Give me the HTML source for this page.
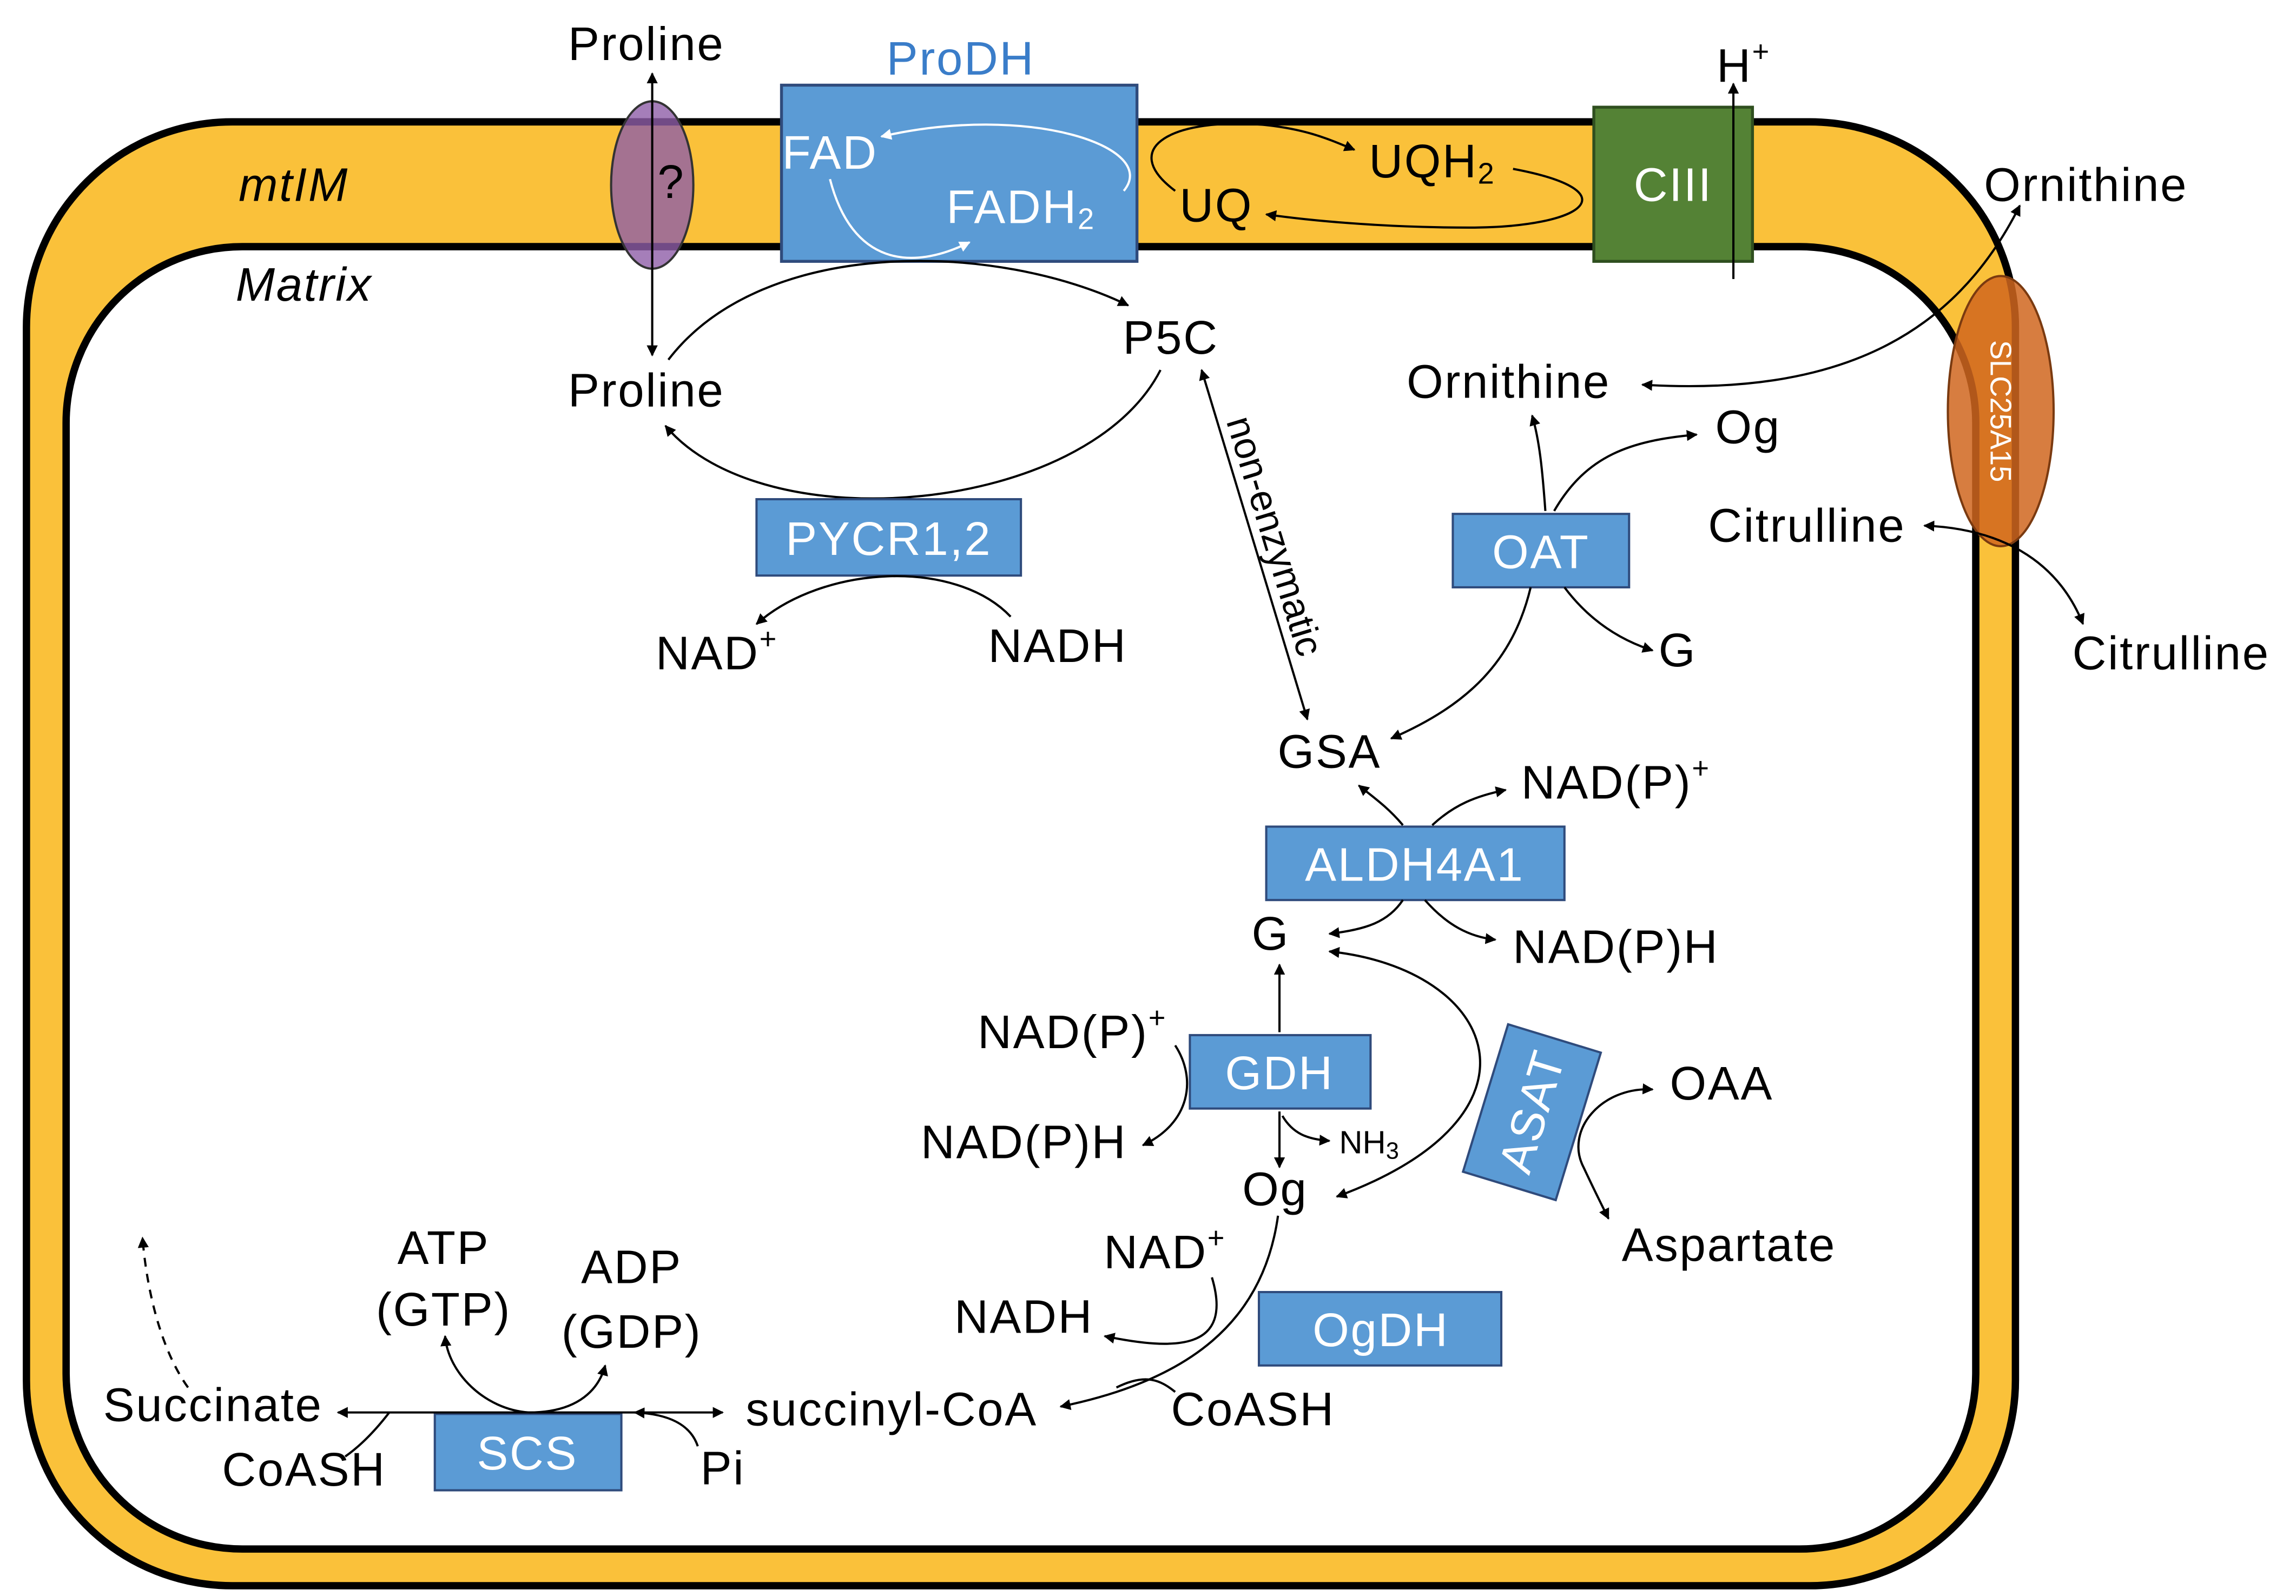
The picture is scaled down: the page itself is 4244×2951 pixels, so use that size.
<!DOCTYPE html>
<html><head><meta charset="utf-8"><style>
html,body{margin:0;padding:0;background:#fff;}
svg{display:block;}
text{font-family:"Liberation Sans",sans-serif;font-size:32px;letter-spacing:1px;fill:#000;}
.w{fill:#fff;}
.c{text-anchor:middle;dominant-baseline:central;}
</style></head><body>
<svg width="4244" height="2951" viewBox="0 0 1563 1087" preserveAspectRatio="none" xmlns="http://www.w3.org/2000/svg">
<defs>
<marker id="a" viewBox="0 0 10 10" refX="9" refY="5" markerWidth="5" markerHeight="5" orient="auto-start-reverse"><path d="M0,0 L10,5 L0,10 z" fill="#000"/></marker>
<marker id="aw" viewBox="0 0 10 10" refX="9" refY="5" markerWidth="5" markerHeight="5" orient="auto-start-reverse"><path d="M0,0 L10,5 L0,10 z" fill="#fff"/></marker>
</defs>
<path fill-rule="evenodd" fill="#FAC13A" stroke="#000" stroke-width="5"
 d="M158,83 H1232 A140,140 0 0 1 1372,223 V940 A140,140 0 0 1 1232,1080 H158 A140,140 0 0 1 18,940 V223 A140,140 0 0 1 158,83 Z
    M165,168 H1225 A120,120 0 0 1 1345,288 V935 A120,120 0 0 1 1225,1055 H165 A120,120 0 0 1 45,935 V288 A120,120 0 0 1 165,168 Z"/>
<text x="200" y="126" class="c" font-style="italic">mtIM</text>
<text x="207" y="194" class="c" font-style="italic">Matrix</text>

<ellipse cx="444" cy="126" rx="28" ry="57" fill="#8E5EA8" fill-opacity="0.8" stroke="#333" stroke-width="1.5"/>
<text x="457" y="124" class="c">?</text>
<line x1="444" y1="242" x2="444" y2="50" stroke="#000" stroke-width="1.5" marker-start="url(#a)" marker-end="url(#a)"/>
<text x="440" y="30" class="c">Proline</text>
<text x="440" y="266" class="c">Proline</text>

<text x="654" y="40" class="c" style="fill:#3A7DC9">ProDH</text>
<rect x="532" y="58" width="242" height="120" fill="#5B9BD5" stroke="#2F4B7C" stroke-width="2"/>
<text x="565" y="104" class="c w">FAD</text>
<text x="695" y="141" class="c w">FADH<tspan font-size="20" dy="8">2</tspan></text>
<path d="M600,93 C700,70 790,100 765,130" fill="none" stroke="#fff" stroke-width="1.5" marker-start="url(#aw)"/>
<path d="M565,122 C580,180 620,185 660,165" fill="none" stroke="#fff" stroke-width="1.5" marker-end="url(#aw)"/>

<text x="828" y="140" class="c">UQ</text>
<text x="975" y="110" class="c">UQH<tspan font-size="20" dy="8">2</tspan></text>
<path d="M800,130 C760,100 800,80 860,85 C890,88 905,95 922,102" fill="none" stroke="#000" stroke-width="1.5" marker-end="url(#a)"/>
<path d="M1030,115 C1110,130 1080,155 1000,155 C940,155 890,150 862,146" fill="none" stroke="#000" stroke-width="1.5" marker-end="url(#a)"/>

<rect x="1085" y="73" width="108" height="105" fill="#548235" stroke="#2F4F1F" stroke-width="2"/>
<text x="1139" y="126" class="c w">CIII</text>
<line x1="1180" y1="190" x2="1180" y2="57" stroke="#000" stroke-width="1.5" marker-end="url(#a)"/>
<text x="1187" y="45" class="c">H<tspan font-size="20" dy="-10">+</tspan></text>

<ellipse cx="1362" cy="280" rx="36" ry="92" fill="#D0661E" fill-opacity="0.85" stroke="#7a3a10" stroke-width="1.5"/>
<text x="1362" y="280" class="c w" style="font-size:20px;letter-spacing:0" transform="rotate(90 1362 280)">SLC25A15</text>
<text x="1420" y="126" class="c">Ornithine</text>
<text x="1478" y="445" class="c">Citrulline</text>
<path d="M1118,262 C1250,270 1330,230 1375,140" fill="none" stroke="#000" stroke-width="1.5" marker-start="url(#a)" marker-end="url(#a)"/>
<path d="M1310,358 C1360,360 1400,380 1418,425" fill="none" stroke="#000" stroke-width="1.5" marker-start="url(#a)" marker-end="url(#a)"/>

<text x="1027" y="260" class="c">Ornithine</text>
<text x="1190" y="291" class="c">Og</text>
<text x="1230" y="358" class="c">Citrulline</text>
<text x="1142" y="443" class="c">G</text>
<rect x="989" y="350" width="120" height="50" fill="#5B9BD5" stroke="#2F4B7C" stroke-width="1.5"/>
<text x="1049" y="376" class="c w">OAT</text>
<path d="M1052,348 C1050,320 1048,300 1043,283" fill="none" stroke="#000" stroke-width="1.5" marker-end="url(#a)"/>
<path d="M1058,348 C1080,310 1110,300 1155,296" fill="none" stroke="#000" stroke-width="1.5" marker-end="url(#a)"/>
<path d="M1042,400 C1030,450 1000,480 947,503" fill="none" stroke="#000" stroke-width="1.5" marker-end="url(#a)"/>
<path d="M1065,400 C1080,420 1100,435 1125,443" fill="none" stroke="#000" stroke-width="1.5" marker-end="url(#a)"/>

<text x="797" y="230" class="c">P5C</text>
<path d="M455,245 C520,160 680,165 768,208" fill="none" stroke="#000" stroke-width="1.5" marker-end="url(#a)"/>
<path d="M790,252 C740,350 520,370 453,290" fill="none" stroke="#000" stroke-width="1.5" marker-end="url(#a)"/>
<rect x="515" y="340" width="180" height="52" fill="#5B9BD5" stroke="#2F4B7C" stroke-width="1.5"/>
<text x="605" y="367" class="c w">PYCR1,2</text>
<text x="488" y="445" class="c">NAD<tspan font-size="20" dy="-10">+</tspan></text>
<text x="720" y="440" class="c">NADH</text>
<path d="M688,420 C650,380 560,385 515,425" fill="none" stroke="#000" stroke-width="1.5" marker-end="url(#a)"/>

<line x1="818" y1="252" x2="890" y2="490" stroke="#000" stroke-width="1.5" marker-start="url(#a)" marker-end="url(#a)"/>
<text x="868" y="365" class="c" style="font-size:26px;letter-spacing:0" transform="rotate(73 868 365)">non-enzymatic</text>

<text x="905" y="512" class="c">GSA</text>
<text x="1100" y="533" class="c">NAD(P)<tspan font-size="20" dy="-10">+</tspan></text>
<text x="1100" y="645" class="c">NAD(P)H</text>
<text x="865" y="636" class="c">G</text>
<rect x="862" y="563" width="203" height="50" fill="#5B9BD5" stroke="#2F4B7C" stroke-width="1.5"/>
<text x="963" y="589" class="c w">ALDH4A1</text>
<path d="M955,562 C945,550 935,543 925,535" fill="none" stroke="#000" stroke-width="1.5" marker-end="url(#a)"/>
<path d="M975,562 C990,548 1005,542 1025,538" fill="none" stroke="#000" stroke-width="1.5" marker-end="url(#a)"/>
<path d="M955,613 C945,628 930,633 905,636" fill="none" stroke="#000" stroke-width="1.5" marker-end="url(#a)"/>
<path d="M970,613 C985,630 1000,638 1018,640" fill="none" stroke="#000" stroke-width="1.5" marker-end="url(#a)"/>

<text x="730" y="703" class="c">NAD(P)<tspan font-size="20" dy="-10">+</tspan></text>
<text x="697" y="778" class="c">NAD(P)H</text>
<text x="932" y="778" class="c" style="font-size:22px;letter-spacing:0">NH<tspan font-size="16" dy="6">3</tspan></text>
<text x="868" y="810" class="c">Og</text>
<rect x="810" y="705" width="123" height="50" fill="#5B9BD5" stroke="#2F4B7C" stroke-width="1.5"/>
<text x="871" y="731" class="c w">GDH</text>
<line x1="871" y1="703" x2="871" y2="657" stroke="#000" stroke-width="1.5" marker-end="url(#a)"/>
<line x1="871" y1="757" x2="871" y2="795" stroke="#000" stroke-width="1.5" marker-end="url(#a)"/>
<path d="M873,760 C880,772 890,776 905,777" fill="none" stroke="#000" stroke-width="1.5" marker-end="url(#a)"/>
<path d="M800,712 C815,735 810,765 778,780" fill="none" stroke="#000" stroke-width="1.5" marker-end="url(#a)"/>

<path d="M905,648 C1020,660 1060,760 910,815" fill="none" stroke="#000" stroke-width="1.5" marker-start="url(#a)" marker-end="url(#a)"/>
<g transform="rotate(17 1043 757)">
<rect x="1010" y="705" width="66" height="105" fill="#5B9BD5" stroke="#2F4B7C" stroke-width="1.5"/>
<text x="1043" y="757" class="c w" transform="rotate(-90 1043 757)">ASAT</text>
</g>
<text x="1172" y="738" class="c">OAA</text>
<text x="1177" y="848" class="c">Aspartate</text>
<path d="M1125,742 C1090,740 1065,770 1078,795 C1085,810 1090,820 1095,830" fill="none" stroke="#000" stroke-width="1.5" marker-start="url(#a)" marker-end="url(#a)"/>

<text x="793" y="853" class="c">NAD<tspan font-size="20" dy="-10">+</tspan></text>
<text x="697" y="897" class="c">NADH</text>
<rect x="857" y="880" width="165" height="50" fill="#5B9BD5" stroke="#2F4B7C" stroke-width="1.5"/>
<text x="940" y="906" class="c w">OgDH</text>
<path d="M870,828 C860,900 810,940 722,958" fill="none" stroke="#000" stroke-width="1.5" marker-end="url(#a)"/>
<path d="M825,870 C840,920 800,920 752,910" fill="none" stroke="#000" stroke-width="1.5" marker-end="url(#a)"/>
<path d="M800,948 C790,940 780,935 760,945" fill="none" stroke="#000" stroke-width="1.5"/>
<text x="853" y="960" class="c">CoASH</text>
<text x="607" y="960" class="c">succinyl-CoA</text>

<text x="145" y="957" class="c">Succinate</text>
<text x="207" y="1001" class="c">CoASH</text>
<text x="492" y="1000" class="c">Pi</text>
<text x="302" y="850" class="c">ATP</text>
<text x="302" y="892" class="c">(GTP)</text>
<text x="430" y="863" class="c">ADP</text>
<text x="430" y="907" class="c">(GDP)</text>
<rect x="296" y="963" width="127" height="52" fill="#5B9BD5" stroke="#2F4B7C" stroke-width="1.5"/>
<text x="359" y="990" class="c w">SCS</text>
<line x1="492" y1="962" x2="230" y2="962" stroke="#000" stroke-width="1.5" marker-start="url(#a)" marker-end="url(#a)"/>
<path d="M475,985 C470,970 455,963 432,962" fill="none" stroke="#000" stroke-width="1.5" marker-end="url(#a)"/>
<path d="M265,962 C255,975 245,985 235,992" fill="none" stroke="#000" stroke-width="1.5"/>
<path d="M360,962 C330,960 305,935 303,910" fill="none" stroke="#000" stroke-width="1.5" marker-end="url(#a)"/>
<path d="M360,962 C395,962 408,945 412,930" fill="none" stroke="#000" stroke-width="1.5" marker-end="url(#a)"/>
<path d="M128,945 C110,920 100,880 97,843" fill="none" stroke="#000" stroke-width="1.5" stroke-dasharray="6,5" marker-end="url(#a)"/>
</svg>
</body></html>
